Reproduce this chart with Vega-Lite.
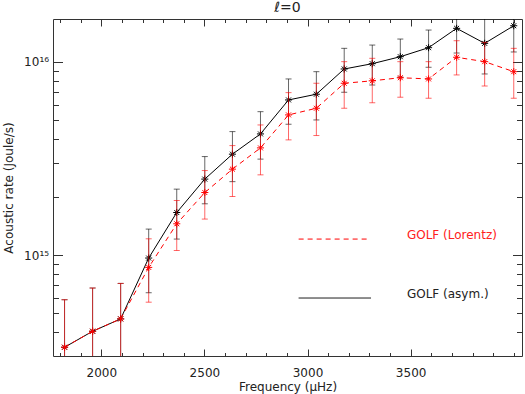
{
  "$schema": "https://vega.github.io/schema/vega-lite/v6.json",
  "width": 469,
  "height": 337,
  "autosize": {"type": "none"},
  "padding": {"left": 53, "top": 19, "right": 3, "bottom": 38},
  "title": {"text": "ℓ=0", "fontSize": 14, "font": "DejaVu Sans", "fontWeight": "normal", "color": "#222", "offset": 4},
  "config": {
    "view": {"stroke": "#333", "strokeWidth": 1},
    "axis": {"labelFont": "DejaVu Sans", "labelFontSize": 12, "labelColor": "#222", "titleFont": "DejaVu Sans", "titleFontSize": 12, "titleFontWeight": "normal", "titleColor": "#222", "tickColor": "#333", "tickWidth": 1, "domain": false, "grid": false, "labelOverlap": false, "labelFlush": false}
  },
  "datasets": {
    "pts": [
      {"s": "asym", "f": 1822, "v": 3.33e14, "lo": 2.0e14, "hi": 5.87e14},
      {"s": "asym", "f": 1958, "v": 4.03e14, "lo": 2.2e14, "hi": 6.75e14},
      {"s": "asym", "f": 2094, "v": 4.67e14, "lo": 2.5e14, "hi": 7.13e14},
      {"s": "asym", "f": 2230, "v": 9.65e14, "lo": 6.38e14, "hi": 1.363e15},
      {"s": "asym", "f": 2366, "v": 1.661e15, "lo": 1.21e15, "hi": 2.195e15},
      {"s": "asym", "f": 2502, "v": 2.474e15, "lo": 1.843e15, "hi": 3.237e15},
      {"s": "asym", "f": 2636, "v": 3.331e15, "lo": 2.40e15, "hi": 4.36e15},
      {"s": "asym", "f": 2772, "v": 4.241e15, "lo": 3.14e15, "hi": 5.53e15},
      {"s": "asym", "f": 2908, "v": 6.36e15, "lo": 4.76e15, "hi": 8.17e15},
      {"s": "asym", "f": 3043, "v": 6.81e15, "lo": 5.01e15, "hi": 8.91e15},
      {"s": "asym", "f": 3178, "v": 9.20e15, "lo": 6.97e15, "hi": 1.177e16},
      {"s": "asym", "f": 3314, "v": 9.80e15, "lo": 7.60e15, "hi": 1.224e16},
      {"s": "asym", "f": 3450, "v": 1.065e16, "lo": 8.36e15, "hi": 1.315e16},
      {"s": "asym", "f": 3587, "v": 1.186e16, "lo": 9.39e15, "hi": 1.464e16},
      {"s": "asym", "f": 3723, "v": 1.494e16, "lo": 1.113e16, "hi": 1.949e16},
      {"s": "asym", "f": 3859, "v": 1.249e16, "lo": 8.67e15, "hi": 1.75e16},
      {"s": "asym", "f": 4000, "v": 1.541e16, "lo": 1.127e16, "hi": 2.02e16},
      {"s": "lorentz", "f": 1822, "v": 3.33e14, "lo": 2.0e14, "hi": 5.87e14},
      {"s": "lorentz", "f": 1958, "v": 4.03e14, "lo": 2.2e14, "hi": 6.75e14},
      {"s": "lorentz", "f": 2094, "v": 4.67e14, "lo": 2.5e14, "hi": 7.13e14},
      {"s": "lorentz", "f": 2230, "v": 8.63e14, "lo": 5.70e14, "hi": 1.214e15},
      {"s": "lorentz", "f": 2366, "v": 1.452e15, "lo": 1.056e15, "hi": 1.917e15},
      {"s": "lorentz", "f": 2502, "v": 2.108e15, "lo": 1.536e15, "hi": 2.74e15},
      {"s": "lorentz", "f": 2636, "v": 2.786e15, "lo": 2.01e15, "hi": 3.69e15},
      {"s": "lorentz", "f": 2772, "v": 3.59e15, "lo": 2.603e15, "hi": 4.72e15},
      {"s": "lorentz", "f": 2908, "v": 5.32e15, "lo": 3.95e15, "hi": 6.94e15},
      {"s": "lorentz", "f": 3043, "v": 5.76e15, "lo": 4.16e15, "hi": 7.76e15},
      {"s": "lorentz", "f": 3178, "v": 7.76e15, "lo": 5.76e15, "hi": 1.004e16},
      {"s": "lorentz", "f": 3314, "v": 7.99e15, "lo": 6.15e15, "hi": 1.045e16},
      {"s": "lorentz", "f": 3450, "v": 8.29e15, "lo": 6.57e15, "hi": 1.004e16},
      {"s": "lorentz", "f": 3587, "v": 8.17e15, "lo": 6.49e15, "hi": 1.004e16},
      {"s": "lorentz", "f": 3723, "v": 1.058e16, "lo": 8.57e15, "hi": 1.289e16},
      {"s": "lorentz", "f": 3859, "v": 1.004e16, "lo": 7.51e15, "hi": 1.264e16},
      {"s": "lorentz", "f": 4000, "v": 8.91e15, "lo": 6.49e15, "hi": 1.177e16}
    ],
    "leg": [
      {"s": "lorentz", "x1": 2957, "x2": 3290, "y": 1.21e15, "tx": 3482, "ty": 1.263e15, "label": "GOLF (Lorentz)"},
      {"s": "asym", "x1": 2957, "x2": 3308, "y": 5.99e14, "tx": 3482, "ty": 6.28e14, "label": "GOLF (asym.)"}
    ]
  },
  "layer": [
    {
      "data": {"name": "pts"},
      "transform": [{"filter": "datum.s == 'asym'"}],
      "mark": {"type": "rule", "color": "#000", "opacity": 0.6, "strokeWidth": 1, "clip": true},
      "encoding": {
        "x": {"field": "f", "type": "quantitative", "scale": {"domain": [1766, 4040], "nice": false, "zero": false},
          "axis": {"orient": "bottom", "values": [2000, 2500, 3000, 3500], "tickSize": -7, "format": "d",
            "labelPadding": 18, "title": "Frequency (μHz)", "titlePadding": 3}},
        "y": {"field": "lo", "type": "quantitative", "scale": {"type": "log", "domain": [3.0e14, 1.67e16], "nice": false},
          "axis": {"orient": "left", "values": [1e15, 1e16], "tickSize": -9.5,
            "labelExpr": "datum.value == 1e15 ? '10¹⁵' : '10¹⁶'",
            "labelPadding": 14, "title": "Acoustic rate (Joule/s)", "titlePadding": 8}},
        "y2": {"field": "hi"}
      }
    },
    {
      "data": {"name": "pts"},
      "transform": [{"filter": "datum.s == 'asym'"}],
      "mark": {"type": "tick", "orient": "horizontal", "size": 6, "thickness": 1, "color": "#000", "opacity": 0.6, "clip": true},
      "encoding": {
        "x": {"field": "f", "type": "quantitative",
          "axis": {"orient": "bottom", "values": [1800, 1900, 2100, 2200, 2300, 2400, 2600, 2700, 2800, 2900, 3100, 3200, 3300, 3400, 3600, 3700, 3800, 3900, 4000],
            "tickSize": -3.5, "labels": false, "title": null}},
        "y": {"field": "lo", "type": "quantitative",
          "axis": {"orient": "left", "values": [4e14, 5e14, 6e14, 7e14, 8e14, 9e14, 2e15, 3e15, 4e15, 5e15, 6e15, 7e15, 8e15, 9e15],
            "tickSize": -5.5, "labels": false, "title": null}}
      }
    },
    {
      "data": {"name": "pts"},
      "transform": [{"filter": "datum.s == 'asym'"}],
      "mark": {"type": "tick", "orient": "horizontal", "size": 6, "thickness": 1, "color": "#000", "opacity": 0.6, "clip": true},
      "encoding": {
        "x": {"field": "f", "type": "quantitative",
          "axis": {"orient": "top", "values": [2000, 2500, 3000, 3500], "tickSize": -7, "labels": false, "title": null}},
        "y": {"field": "hi", "type": "quantitative",
          "axis": {"orient": "right", "values": [1e15, 1e16], "tickSize": -9.5, "labels": false, "title": null}}
      }
    },
    {
      "data": {"name": "pts"},
      "transform": [{"filter": "datum.s == 'asym'"}],
      "mark": {"type": "line", "color": "#000", "strokeWidth": 1, "clip": true},
      "encoding": {
        "x": {"field": "f", "type": "quantitative",
          "axis": {"orient": "top", "values": [1800, 1900, 2100, 2200, 2300, 2400, 2600, 2700, 2800, 2900, 3100, 3200, 3300, 3400, 3600, 3700, 3800, 3900, 4000],
            "tickSize": -3.5, "labels": false, "title": null}},
        "y": {"field": "v", "type": "quantitative",
          "axis": {"orient": "right", "values": [4e14, 5e14, 6e14, 7e14, 8e14, 9e14, 2e15, 3e15, 4e15, 5e15, 6e15, 7e15, 8e15, 9e15],
            "tickSize": -5.5, "labels": false, "title": null}}
      }
    },
    {
      "data": {"name": "pts"},
      "transform": [{"filter": "datum.s == 'asym'"}],
      "mark": {"type": "point", "shape": "M-1,0L1,0M0,-1L0,1M-0.7,-0.7L0.7,0.7M-0.7,0.7L0.7,-0.7", "filled": false, "size": 50, "strokeWidth": 1, "color": "#000", "opacity": 1, "clip": true},
      "encoding": {
        "x": {"field": "f", "type": "quantitative", "axis": null},
        "y": {"field": "v", "type": "quantitative", "axis": null}
      }
    },
    {
      "data": {"name": "pts"},
      "transform": [{"filter": "datum.s == 'lorentz'"}],
      "mark": {"type": "rule", "color": "#ff0000", "opacity": 0.6, "strokeWidth": 1, "clip": true},
      "encoding": {
        "x": {"field": "f", "type": "quantitative", "axis": null},
        "y": {"field": "lo", "type": "quantitative", "axis": null},
        "y2": {"field": "hi"}
      }
    },
    {
      "data": {"name": "pts"},
      "transform": [{"filter": "datum.s == 'lorentz'"}],
      "mark": {"type": "tick", "orient": "horizontal", "size": 6, "thickness": 1, "color": "#ff0000", "opacity": 0.6, "clip": true},
      "encoding": {
        "x": {"field": "f", "type": "quantitative", "axis": null},
        "y": {"field": "lo", "type": "quantitative", "axis": null}
      }
    },
    {
      "data": {"name": "pts"},
      "transform": [{"filter": "datum.s == 'lorentz'"}],
      "mark": {"type": "tick", "orient": "horizontal", "size": 6, "thickness": 1, "color": "#ff0000", "opacity": 0.6, "clip": true},
      "encoding": {
        "x": {"field": "f", "type": "quantitative", "axis": null},
        "y": {"field": "hi", "type": "quantitative", "axis": null}
      }
    },
    {
      "data": {"name": "pts"},
      "transform": [{"filter": "datum.s == 'lorentz'"}],
      "mark": {"type": "line", "color": "#ff0000", "strokeWidth": 1, "strokeDash": [5, 4], "clip": true},
      "encoding": {
        "x": {"field": "f", "type": "quantitative", "axis": null},
        "y": {"field": "v", "type": "quantitative", "axis": null}
      }
    },
    {
      "data": {"name": "pts"},
      "transform": [{"filter": "datum.s == 'lorentz'"}],
      "mark": {"type": "point", "shape": "M-1,0L1,0M0,-1L0,1M-0.7,-0.7L0.7,0.7M-0.7,0.7L0.7,-0.7", "filled": false, "size": 50, "strokeWidth": 1, "color": "#ff0000", "opacity": 1, "clip": true},
      "encoding": {
        "x": {"field": "f", "type": "quantitative", "axis": null},
        "y": {"field": "v", "type": "quantitative", "axis": null}
      }
    },
    {
      "data": {"name": "leg"},
      "mark": {"type": "rule", "strokeWidth": 1},
      "encoding": {
        "x": {"field": "x1", "type": "quantitative", "axis": null},
        "x2": {"field": "x2"},
        "y": {"field": "y", "type": "quantitative", "axis": null},
        "color": {"field": "s", "type": "nominal", "scale": {"domain": ["asym", "lorentz"], "range": ["#000000", "#ff0000"]}, "legend": null},
        "strokeDash": {"field": "s", "type": "nominal", "scale": {"domain": ["asym", "lorentz"], "range": [[1, 0], [5, 4]]}, "legend": null}
      }
    },
    {
      "data": {"name": "leg"},
      "mark": {"type": "text", "align": "left", "baseline": "middle", "font": "DejaVu Sans", "fontSize": 12},
      "encoding": {
        "x": {"field": "tx", "type": "quantitative", "axis": null},
        "y": {"field": "ty", "type": "quantitative", "axis": null},
        "text": {"field": "label"},
        "color": {"field": "s", "type": "nominal", "scale": {"domain": ["asym", "lorentz"], "range": ["#222222", "#ff2020"]}, "legend": null}
      }
    }
  ],
  "resolve": {"axis": {"x": "independent", "y": "independent"}, "scale": {"color": "independent"}}
}
